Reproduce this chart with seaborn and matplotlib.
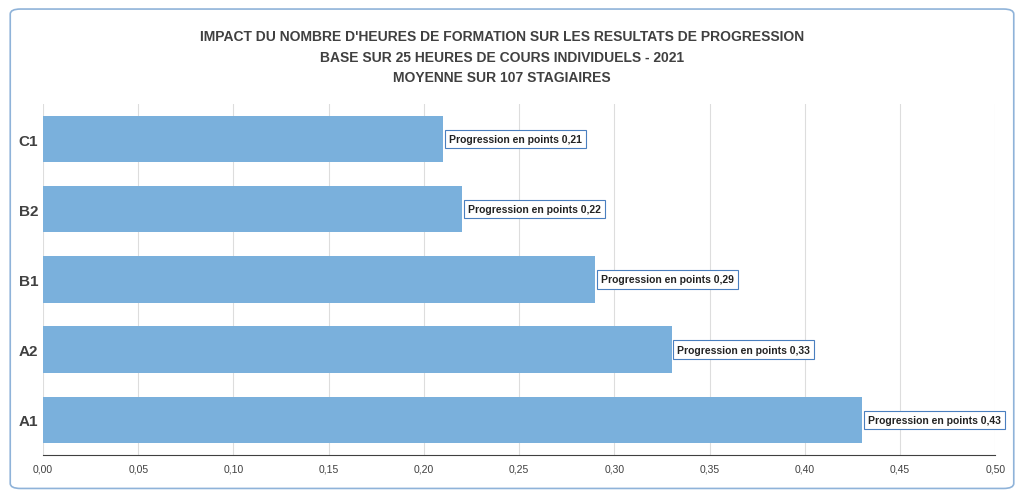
import matplotlib
matplotlib.use("Agg")
import matplotlib.pyplot as plt
import seaborn as sns
import pandas as pd
from matplotlib.patches import FancyBboxPatch

levels = ["C1", "B2", "B1", "A2", "A1"]
progression = [0.21, 0.22, 0.29, 0.33, 0.43]
xticks = [0.00, 0.05, 0.10, 0.15, 0.20, 0.25, 0.30, 0.35, 0.40, 0.45, 0.50]
title = ("IMPACT DU NOMBRE D'HEURES DE FORMATION SUR LES RESULTATS DE PROGRESSION\n"
         "BASE SUR 25 HEURES DE COURS INDIVIDUELS - 2021\n"
         "MOYENNE SUR 107 STAGIAIRES")

df = pd.DataFrame({"niveau": levels, "val": progression})
plt.rcParams["font.family"] = "Liberation Sans"
fig = plt.figure(figsize=(10.24, 5.02), dpi=100)
fig.patches.append(FancyBboxPatch((0.01, 0.025), 0.98, 0.955, boxstyle="round,pad=0,rounding_size=0.01",
                                  transform=fig.transFigure, fill=False, edgecolor="#8fb3d9", linewidth=1.2))
ax = fig.add_axes([0.042, 0.092, 0.93, 0.699])
sns.barplot(data=df, y="niveau", x="val", orient="h", color="#7AB0DC", saturation=1, width=0.66, ax=ax, zorder=3)
ax.set_xlim(0, 0.5)
ax.set_ylim(4.5, -0.5)
ax.set_xticks(xticks)
ax.set_xticklabels([f"{t:.2f}".replace(".", ",") for t in xticks], fontsize=7.5, color="#404040")
ax.tick_params(axis="y", labelsize=11, colors="#404040", length=0)
for lab in ax.get_yticklabels():
    lab.set_fontweight("bold")
ax.tick_params(axis="x", length=0, pad=6)
ax.set_xlabel(""); ax.set_ylabel("")
ax.grid(axis="x", color="#dddddd", linewidth=0.8, zorder=0)
for s in ["top", "right", "left"]:
    ax.spines[s].set_visible(False)
ax.spines["bottom"].set_color("#404040")
for i, v in enumerate(progression):
    ax.text(v + 0.003, i, f"Progression en points {v:.2f}".replace(".", ","), va="center", ha="left",
            fontsize=7.5, fontweight="bold", color="#222222", zorder=5,
            bbox=dict(boxstyle="square,pad=0.4", facecolor="white", edgecolor="#4a7fbf", linewidth=0.8))
fig.text(0.49, 0.94, title, ha="center", va="top", fontsize=10, fontweight="bold",
         color="#404040", linespacing=1.6)
fig.savefig("out.png", dpi=100)
